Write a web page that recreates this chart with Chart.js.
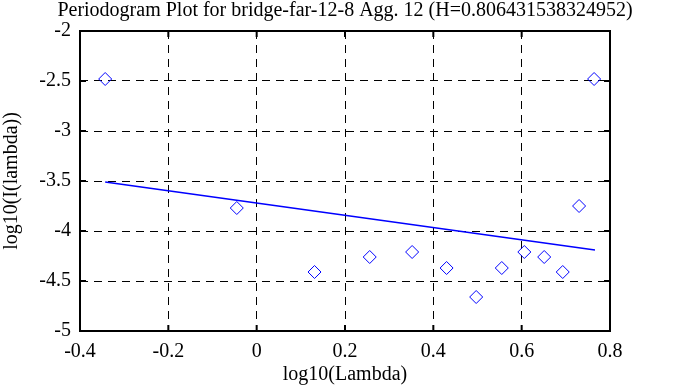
<!DOCTYPE html>
<html>
<head>
<meta charset="utf-8">
<script src="https://cdn.jsdelivr.net/npm/chart.js@4"></script>
<style>
  html, body { margin: 0; padding: 0; background: #fff; }
  #wrap { width: 683px; height: 387px; }
</style>
</head>
<body>
<div id="wrap"><canvas id="pgChart" width="683" height="387"></canvas></div>
<script>
// periodogram points, log10(lambda) vs log10(I(lambda))
var logLambda = [-0.343, -0.045, 0.131, 0.256, 0.352, 0.430, 0.497, 0.555, 0.606, 0.651, 0.693, 0.730, 0.764];
var logI = [-2.48, -3.77, -4.41, -4.26, -4.21, -4.37, -4.66, -4.37, -4.21, -4.26, -4.41, -3.75, -2.48];
// least squares fit line end points
var fitX = [-0.343, 0.766];
var fitY = [-3.51, -4.19];
var xTicks = [-0.4, -0.2, 0, 0.2, 0.4, 0.6, 0.8];
var yTicks = [-2, -2.5, -3, -3.5, -4, -4.5, -5];
var titleText = 'Periodogram Plot for bridge-far-12-8 Agg. 12 (H=0.806431538324952)';

var serif = 'Liberation Serif, Times New Roman, serif';

// box, inward ticks and a title centred over the plot area
var frame = {
    id: 'frame',
    afterDatasetsDraw: function (chart) {
        var ctx = chart.ctx, a = chart.chartArea;
        var xs = chart.scales.x, ys = chart.scales.y;
        ctx.save();
        ctx.strokeStyle = '#000';
        ctx.lineWidth = 2;
        ctx.strokeRect(a.left, a.top, a.right - a.left, a.bottom - a.top);
        ctx.beginPath();
        xTicks.forEach(function (v) {
            var px = xs.getPixelForValue(v);
            ctx.moveTo(px, a.bottom); ctx.lineTo(px, a.bottom - 6);
            ctx.moveTo(px, a.top); ctx.lineTo(px, a.top + 6);
        });
        yTicks.forEach(function (v) {
            var py = ys.getPixelForValue(v);
            ctx.moveTo(a.left, py); ctx.lineTo(a.left + 6, py);
            ctx.moveTo(a.right, py); ctx.lineTo(a.right - 6, py);
        });
        ctx.stroke();
        ctx.fillStyle = '#000';
        ctx.font = '20px ' + serif;
        ctx.textAlign = 'center';
        ctx.textBaseline = 'middle';
        ctx.fillText(titleText, (a.left + a.right) / 2, 11);
        ctx.restore();
    }
};

var chart = new Chart(document.getElementById('pgChart').getContext('2d'), {
    type: 'scatter',
    data: {
        datasets: [{
            label: 'fit',
            type: 'line',
            data: fitX.map(function (x, i) { return { x: x, y: fitY[i] }; }),
            borderColor: '#0000ff',
            borderWidth: 1.5,
            pointRadius: 0,
            fill: false
        }, {
            label: 'periodogram',
            data: logLambda.map(function (x, i) { return { x: x, y: logI[i] }; }),
            pointStyle: 'rectRot',
            pointRadius: 6.5,
            pointBorderColor: '#0000ff',
            pointBackgroundColor: 'rgba(0,0,0,0)',
            pointBorderWidth: 1,
            showLine: false
        }]
    },
    options: {
        responsive: false,
        animation: false,
        layout: { padding: { left: 0, right: 73, top: 31, bottom: 0 } },
        plugins: {
            legend: { display: false },
            tooltip: { enabled: false },
            title: { display: false }
        },
        scales: {
            x: {
                type: 'linear',
                min: -0.4, max: 0.8,
                afterBuildTicks: function (s) { s.ticks = xTicks.map(function (v) { return { value: v }; }); },
                afterFit: function (s) { s.height = 56; },
                ticks: {
                    color: '#000',
                    font: { family: serif, size: 20 },
                    padding: 9,
                    maxRotation: 0,
                    callback: function (v) { return String(Math.round(v * 10) / 10); }
                },
                grid: { color: '#000', lineWidth: 1, drawTicks: false },
                border: { display: false, dash: [8, 6] },
                title: {
                    display: true,
                    text: 'log10(Lambda)',
                    color: '#000',
                    font: { family: serif, size: 20 },
                    padding: { top: 0, bottom: 0 }
                }
            },
            y: {
                type: 'linear',
                min: -5, max: -2,
                afterBuildTicks: function (s) { s.ticks = yTicks.map(function (v) { return { value: v }; }); },
                afterFit: function (s) { s.width = 80; },
                ticks: {
                    color: '#000',
                    font: { family: serif, size: 20 },
                    padding: 9,
                    callback: function (v) { return String(Math.round(v * 10) / 10); }
                },
                grid: { color: '#000', lineWidth: 1, drawTicks: false },
                border: { display: false, dash: [8, 6] },
                title: {
                    display: true,
                    text: 'log10(I(lambda))',
                    color: '#000',
                    font: { family: serif, size: 20 },
                    padding: { top: 0, bottom: 2 }
                }
            }
        }
    },
    plugins: [frame]
});
</script>
</body>
</html>
